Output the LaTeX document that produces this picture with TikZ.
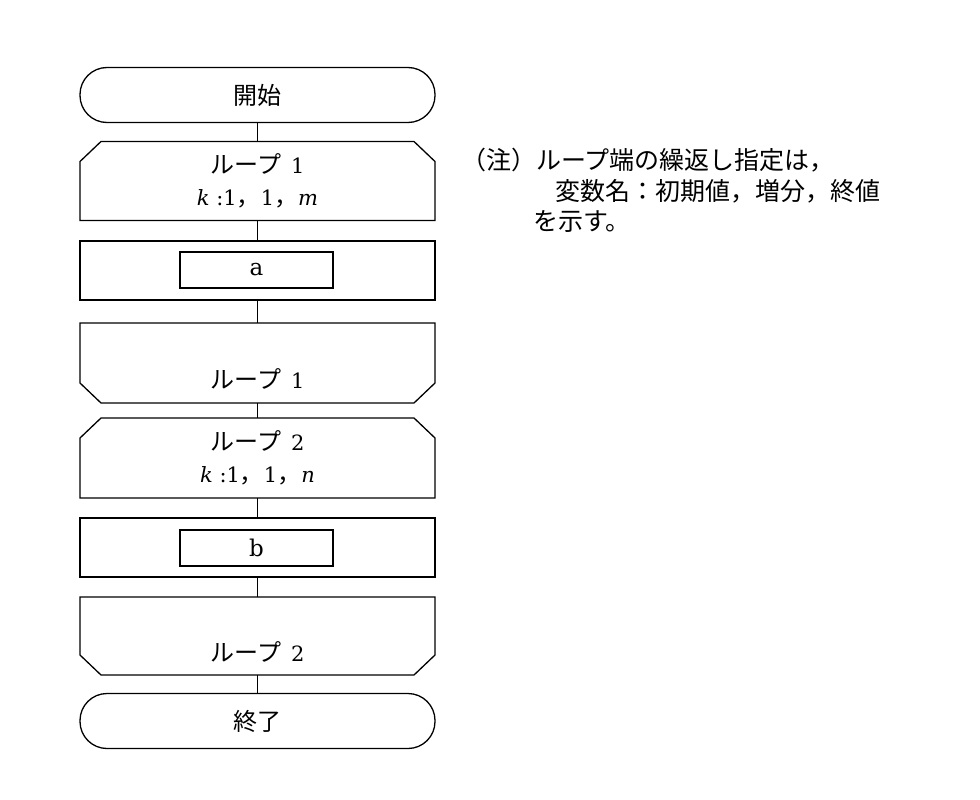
\documentclass[tikz,border=0pt]{standalone}
\usepackage{fontspec}
\setmainfont{DejaVu Serif}
\newfontfamily\cjk{Noto Sans CJK JP}
\newcommand\jp[1]{{\cjk\fontsize{24}{31}\selectfont #1}}
\newcommand\topcham[1]{\draw[shapeline] (#1.south west) -- ([yshift=-20pt]#1.north west) -- ([xshift=21pt]#1.north west) -- ([xshift=-21pt]#1.north east) -- ([yshift=-20pt]#1.north east) -- (#1.south east) -- cycle;}
\newcommand\botcham[1]{\draw[shapeline] (#1.north west) -- ([yshift=20pt]#1.south west) -- ([xshift=21pt]#1.south west) -- ([xshift=-21pt]#1.south east) -- ([yshift=20pt]#1.south east) -- (#1.north east) -- cycle;}
\begin{document}
\begin{tikzpicture}[x=1pt,y=-1pt,
  every node/.style={inner sep=0pt, outer sep=0pt},
  shapeline/.style={line width=1.3pt},
  ftext/.style={font=\fontsize{21}{31}\selectfont, align=center},
  term/.style={ftext, draw, shapeline, rounded corners=27pt, minimum width=355pt, minimum height=55pt},
  loopbox/.style={ftext, minimum width=355pt},
  proc/.style={draw, shapeline, minimum width=355pt, minimum height=59pt},
  inbox/.style={draw, line width=2.6pt, minimum width=153pt, minimum height=36pt, font=\fontsize{23}{26}\selectfont},
  note/.style={anchor=west, font=\cjk\fontsize{25}{28}\selectfont},
  conn/.style={line width=1.3pt}
]
\useasboundingbox (0,0) rectangle (980,800);

\node[term] (start) at (257.5,95) {\jp{開始}};
\node[loopbox, minimum height=79pt] (l1s) at (257.5,181) {\jp{ループ}\, 1\\[1pt]\textit{k} :1\jp{，}1\jp{，}\textit{m}};
\topcham{l1s}
\node[proc] (pa) at (257.5,270.5) {};
\node[inbox] (a) at (256.5,270) {a};
\node[loopbox, minimum height=80pt] (l1e) at (257.5,363) {\strut\\\jp{ループ}\, 1};
\botcham{l1e}
\node[loopbox, minimum height=80pt] (l2s) at (257.5,458) {\jp{ループ}\, 2\\[1pt]\textit{k} :1\jp{，}1\jp{，}\textit{n}};
\topcham{l2s}
\node[proc] (pb) at (257.5,547.5) {};
\node[inbox] (b) at (256.5,548) {b};
\node[loopbox, minimum height=78pt] (l2e) at (257.5,636) {\strut\\\jp{ループ}\, 2};
\botcham{l2e}
\node[term] (end) at (257.5,721) {\jp{終了}};

\draw[conn] (start) -- (l1s);
\draw[conn] (l1s) -- (pa);
\draw[conn] (pa) -- (l1e);
\draw[conn] (l1e) -- (l2s);
\draw[conn] (l2s) -- (pb);
\draw[conn] (pb) -- (l2e);
\draw[conn] (l2e) -- (end);

\node[note] (n1) at (461,160) {（注）ループ端の繰返し指定は，};
\node[note] (n2) at (555,191) {変数名：初期値，増分，終値};
\node[note] (n3) at (533,222) {を示す。};
\end{tikzpicture}
\end{document}
